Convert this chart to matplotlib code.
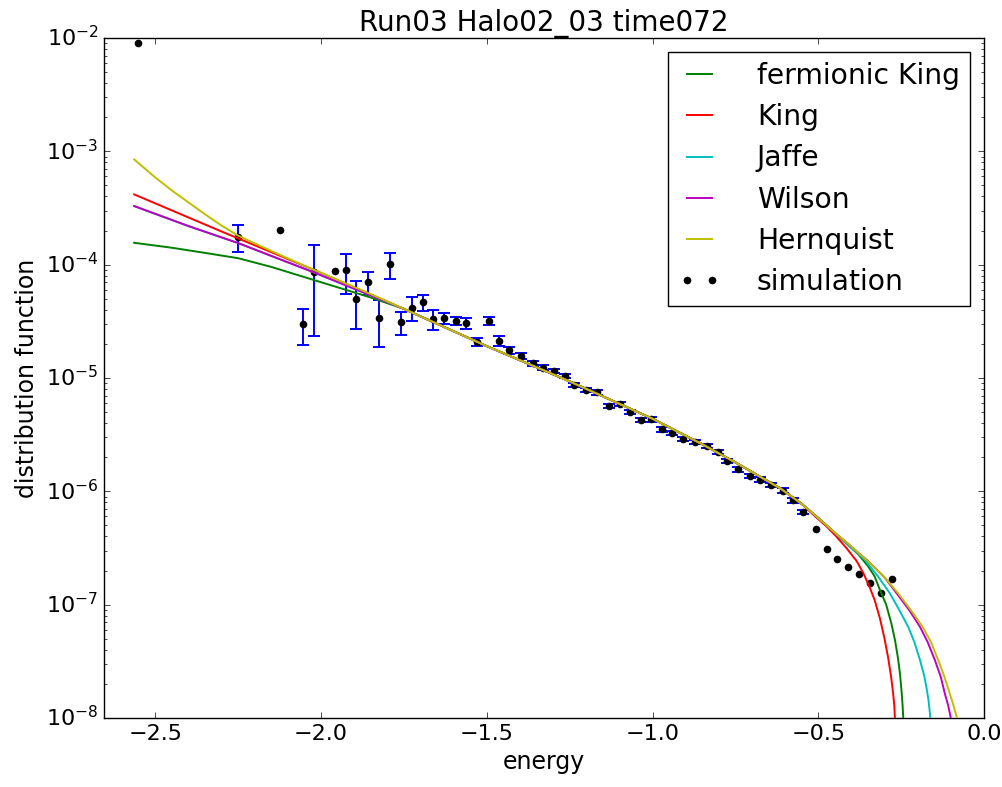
import matplotlib
matplotlib.use("Agg")
import matplotlib.pyplot as plt
import numpy as np

plt.style.use("classic")
plt.rcParams["mathtext.fontset"] = "dejavusans"
plt.rcParams["mathtext.default"] = "regular"
plt.rcParams["font.family"] = ["DejaVu Sans"]

title = "Run03 Halo02_03 time072"
xlabel = "energy"
ylabel = "distribution function"

# ---- simulation data ----
sim_energy = [-2.552, -2.251, -2.124, -2.055, -2.020, -1.957, -1.924, -1.894, -1.859, -1.824,
              -1.793, -1.760, -1.727, -1.692, -1.662, -1.628, -1.593, -1.562, -1.529, -1.494,
              -1.462, -1.432, -1.398, -1.361, -1.330, -1.298, -1.264, -1.236, -1.202, -1.167,
              -1.132, -1.099, -1.068, -1.035, -1.004, -0.972, -0.940, -0.907, -0.873, -0.837,
              -0.803, -0.775, -0.742, -0.707, -0.675, -0.642, -0.606, -0.576, -0.546, -0.508,
              -0.474, -0.444, -0.411, -0.377, -0.345, -0.311, -0.277]
sim_df = [9.1e-3, 1.76e-4, 2.02e-4, 3.0e-5, 8.65e-5, 8.77e-5, 9.0e-5, 4.93e-5, 6.98e-5, 3.38e-5,
          1.01e-4, 3.1e-5, 4.17e-5, 4.65e-5, 3.29e-5, 3.38e-5, 3.18e-5, 3.03e-5, 2.09e-5, 3.18e-5,
          2.13e-5, 1.75e-5, 1.57e-5, 1.35e-5, 1.23e-5, 1.15e-5, 1.04e-5, 8.65e-6, 7.82e-6, 7.46e-6,
          5.69e-6, 5.92e-6, 5.03e-6, 4.25e-6, 4.31e-6, 3.52e-6, 3.29e-6, 2.89e-6, 2.72e-6, 2.5e-6,
          2.23e-6, 1.85e-6, 1.56e-6, 1.36e-6, 1.27e-6, 1.14e-6, 1.01e-6, 8.35e-7, 6.59e-7, 4.61e-7,
          3.09e-7, 2.52e-7, 2.13e-7, 1.87e-7, 1.54e-7, 1.27e-7, 1.70e-7]
# error bars (0 = no error bar drawn)
sim_err = [0, 4.6e-5, 0, 1.04e-5, 6.3e-5, 0, 3.45e-5, 2.2e-5, 1.6e-5, 1.5e-5,
           2.65e-5, 7.0e-6, 1.0e-5, 7.2e-6, 6.6e-6, 3.8e-6, 2.7e-6, 3.3e-6, 1.8e-6, 2.7e-6,
           2.0e-6, 1.3e-6, 9e-7, 7e-7, 6e-7, 5e-7, 5e-7, 4e-7, 3.5e-7, 3.3e-7,
           2.5e-7, 2.5e-7, 2.1e-7, 1.8e-7, 1.8e-7, 1.5e-7, 1.4e-7, 1.2e-7, 1.1e-7, 1.0e-7,
           9e-8, 8e-8, 7e-8, 6e-8, 6e-8, 5e-8, 5e-8, 4e-8, 3e-8, 0,
           0, 0, 0, 0, 0, 0, 0]

# ---- model curves ----
fking_E = [-2.564, -2.45, -2.35, -2.25, -2.15, -2.05, -1.95, -1.85, -1.75, -1.50, -1.25, -1.00,
           -0.855, -0.75, -0.614, -0.55, -0.51, -0.475, -0.444, -0.411, -0.38, -0.35, -0.33,
           -0.314, -0.295, -0.279, -0.268, -0.259, -0.253, -0.2485, -0.2455, -0.2437, -0.243]
fking_f = [1.56e-4, 1.41e-4, 1.27e-4, 1.14e-4, 9.55e-5, 7.76e-5, 6.31e-5, 5.13e-5, 4.07e-5, 1.91e-5,
           9.33e-6, 4.37e-6, 2.65e-6, 1.80e-6, 1.06e-6, 7.76e-7, 6.17e-7, 5.01e-7, 4.12e-7, 3.39e-7,
           2.79e-7, 2.19e-7, 1.78e-7, 1.35e-7, 1.0e-7, 6.76e-8, 4.79e-8, 3.31e-8, 2.40e-8, 1.70e-8,
           1.29e-8, 1.02e-8, 7.9e-9]

king_E = [-2.564, -2.30, -2.02, -1.75, -1.50, -1.25, -1.00, -0.855, -0.75, -0.614, -0.55, -0.51,
          -0.475, -0.445, -0.415, -0.3844, -0.3644, -0.3442, -0.33, -0.314, -0.30, -0.289, -0.28,
          -0.274, -0.2705, -0.269, -0.268]
king_f = [4.17e-4, 1.96e-4, 8.95e-5, 4.07e-5, 1.91e-5, 9.33e-6, 4.37e-6, 2.65e-6, 1.80e-6, 1.06e-6,
          7.76e-7, 6.03e-7, 4.90e-7, 3.98e-7, 3.16e-7, 2.43e-7, 1.91e-7, 1.41e-7, 1.10e-7, 7.59e-8,
          5.01e-8, 3.39e-8, 2.29e-8, 1.64e-8, 1.29e-8, 1.02e-8, 7.9e-9]

jaffe_E = [-2.564, -2.40, -2.25, -2.02, -1.75, -1.50, -1.25, -1.00, -0.855, -0.75, -0.614, -0.55,
           -0.51, -0.475, -0.444, -0.411, -0.38, -0.359, -0.32, -0.284, -0.255, -0.2286, -0.21,
           -0.193, -0.18, -0.173, -0.167, -0.163, -0.1605]
jaffe_f = [3.29e-4, 2.19e-4, 1.55e-4, 8.51e-5, 4.07e-5, 1.91e-5, 9.33e-6, 4.37e-6, 2.65e-6, 1.80e-6,
           1.06e-6, 7.76e-7, 6.17e-7, 5.01e-7, 4.12e-7, 3.39e-7, 2.82e-7, 2.47e-7, 1.78e-7, 1.26e-7,
           8.91e-8, 6.37e-8, 4.68e-8, 3.24e-8, 2.34e-8, 1.82e-8, 1.41e-8, 1.10e-8, 7.9e-9]

wilson_E = [-2.564, -2.40, -2.25, -2.02, -1.75, -1.50, -1.25, -1.00, -0.855, -0.75, -0.614, -0.55,
            -0.51, -0.475, -0.444, -0.411, -0.38, -0.35, -0.30, -0.2636, -0.225, -0.193, -0.17,
            -0.148, -0.13, -0.118, -0.108, -0.1005, -0.098]
wilson_f = [3.29e-4, 2.19e-4, 1.55e-4, 8.51e-5, 4.07e-5, 1.91e-5, 9.33e-6, 4.37e-6, 2.65e-6, 1.80e-6,
            1.06e-6, 7.76e-7, 6.17e-7, 5.01e-7, 4.17e-7, 3.47e-7, 2.88e-7, 2.43e-7, 1.74e-7, 1.26e-7,
            8.91e-8, 6.37e-8, 4.68e-8, 3.24e-8, 2.29e-8, 1.64e-8, 1.29e-8, 1.02e-8, 7.9e-9]

hern_E = [-2.564, -2.50, -2.45, -2.40, -2.35, -2.30, -2.25, -2.15, -2.05, -1.95, -1.85, -1.75,
          -1.50, -1.25, -1.00, -0.855, -0.75, -0.614, -0.55, -0.51, -0.475, -0.444, -0.411, -0.38,
          -0.349, -0.30, -0.259, -0.22, -0.185, -0.16, -0.138, -0.12, -0.103, -0.092, -0.082, -0.079]
hern_f = [8.49e-4, 5.87e-4, 4.51e-4, 3.54e-4, 2.78e-4, 2.21e-4, 1.80e-4, 1.32e-4, 9.77e-5, 7.33e-5,
          5.50e-5, 4.07e-5, 1.91e-5, 9.33e-6, 4.37e-6, 2.65e-6, 1.80e-6, 1.06e-6, 7.76e-7, 6.17e-7,
          5.01e-7, 4.17e-7, 3.47e-7, 2.88e-7, 2.40e-7, 1.74e-7, 1.26e-7, 8.91e-8, 6.37e-8, 4.68e-8,
          3.24e-8, 2.34e-8, 1.64e-8, 1.29e-8, 1.02e-8, 7.9e-9]

models = [("fermionic King", fking_E, fking_f, "g"),
          ("King", king_E, king_f, "r"),
          ("Jaffe", jaffe_E, jaffe_f, "c"),
          ("Wilson", wilson_E, wilson_f, "m"),
          ("Hernquist", hern_E, hern_f, "y")]

fig = plt.figure(figsize=(10.02, 7.87), dpi=100)
ax = fig.add_axes([0.1038, 0.0877, 0.8782, 0.864])

handles = []
for name, E, f, c in models:
    h, = ax.plot(E, f, color=c, lw=1.4, label=name, zorder=3)
    handles.append(h)

E_arr = np.array(sim_energy)
f_arr = np.array(sim_df)
e_arr = np.array(sim_err)
mask = e_arr > 0
ax.errorbar(E_arr[mask], f_arr[mask], yerr=e_arr[mask], fmt="none", ecolor="b",
            elinewidth=1.4, capsize=4, capthick=1.4, zorder=1)
hs, = ax.plot(E_arr, f_arr, "o", color="k", ms=5.5, mec="k", mew=0, label="simulation", zorder=2)
handles.append(hs)

ax.set_yscale("log")
ax.set_xlim(-2.655, 0.0)
ax.set_ylim(1e-8, 1e-2)
ax.set_title(title, fontsize=20)
ax.set_xlabel(xlabel, fontsize=17)
ax.set_ylabel(ylabel, fontsize=17)
ax.tick_params(labelsize=16)

leg = ax.legend(handles=handles, loc="upper right", numpoints=2, fontsize=20.3, frameon=True,
                fancybox=False, handlelength=1.5, handletextpad=1.3, labelspacing=0.47,
                borderaxespad=0.5, borderpad=0.35)
leg.get_frame().set_edgecolor("k")

fig.savefig("out.png", dpi=100)
